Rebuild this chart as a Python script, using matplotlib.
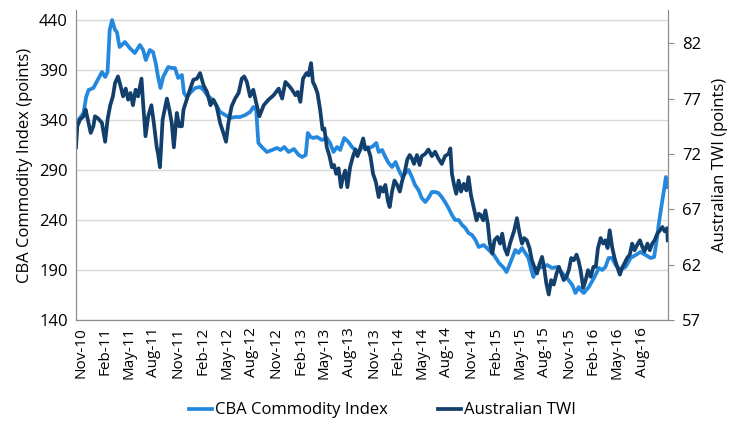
import numpy as np
import pandas as pd
import matplotlib
matplotlib.use("Agg")
import matplotlib.pyplot as plt
import matplotlib.dates as mdates

# CBA Commodity Index (left axis)
cba_dates = [
    "2010-10-15", "2010-10-24", "2010-11-12", "2010-11-22", "2010-12-01", "2010-12-19", "2010-12-31",
    "2011-01-20", "2011-02-01", "2011-02-10", "2011-02-18", "2011-02-27", "2011-03-10", "2011-03-17",
    "2011-03-27", "2011-04-16", "2011-05-04", "2011-05-23", "2011-06-11", "2011-06-23", "2011-07-03",
    "2011-07-18", "2011-07-30", "2011-08-09", "2011-08-18", "2011-08-27", "2011-09-06", "2011-09-25",
    "2011-10-08", "2011-10-20", "2011-11-01", "2011-11-15", "2011-11-23", "2011-12-03", "2011-12-15",
    "2012-01-04", "2012-01-22", "2012-02-04", "2012-02-17", "2012-03-01", "2012-03-18", "2012-04-06",
    "2012-04-25", "2012-05-13", "2012-06-01", "2012-06-20", "2012-07-09", "2012-07-27", "2012-08-08",
    "2012-08-19", "2012-08-27", "2012-09-09", "2012-09-28", "2012-10-17", "2012-11-05", "2012-11-18",
    "2012-12-02", "2012-12-18", "2013-01-07", "2013-01-25", "2013-02-07", "2013-02-20", "2013-02-28",
    "2013-03-10", "2013-03-21", "2013-04-03", "2013-04-22", "2013-05-10", "2013-05-22", "2013-06-04",
    "2013-06-17", "2013-06-29", "2013-07-14", "2013-07-30", "2013-08-12", "2013-08-25", "2013-09-06",
    "2013-09-19", "2013-10-07", "2013-10-26", "2013-11-11", "2013-11-20", "2013-12-03", "2013-12-15",
    "2013-12-27", "2014-01-09", "2014-01-22", "2014-02-03", "2014-02-16", "2014-02-28", "2014-03-12",
    "2014-03-24", "2014-04-05", "2014-04-18", "2014-04-30", "2014-05-13", "2014-05-25", "2014-06-07",
    "2014-06-19", "2014-07-01", "2014-07-14", "2014-07-26", "2014-08-08", "2014-08-21", "2014-09-02",
    "2014-09-15", "2014-09-28", "2014-10-10", "2014-10-22", "2014-11-04", "2014-11-17", "2014-11-29",
    "2014-12-18", "2015-01-06", "2015-01-25", "2015-02-13", "2015-03-03", "2015-03-13", "2015-03-21",
    "2015-04-03", "2015-04-15", "2015-04-27", "2015-05-10", "2015-05-22", "2015-06-03", "2015-06-16",
    "2015-06-22", "2015-06-29", "2015-07-11", "2015-07-24", "2015-08-12", "2015-08-30", "2015-09-18",
    "2015-10-07", "2015-10-25", "2015-11-14", "2015-11-26", "2015-12-08", "2015-12-15", "2015-12-27",
    "2016-01-15", "2016-02-03", "2016-02-22", "2016-03-05", "2016-03-17", "2016-03-29", "2016-04-11",
    "2016-04-24", "2016-05-12", "2016-05-31", "2016-06-19", "2016-07-08", "2016-07-26", "2016-08-14",
    "2016-09-02", "2016-09-15", "2016-09-25", "2016-10-03", "2016-10-12", "2016-10-22", "2016-10-29",
    "2016-11-05",
]
cba_values = [
    337, 340, 347, 363, 370, 372, 378,
    388, 383, 388, 430, 440, 430, 428,
    413, 418, 412, 407, 415, 410, 400,
    410, 408, 397, 383, 372, 383, 393,
    392, 392, 382, 385, 367, 363, 367,
    372, 373, 370, 365, 362, 357, 348,
    345, 342, 343, 343, 345, 348, 353,
    350, 317, 313, 308, 310, 312, 310,
    313, 308, 311, 305, 303, 305, 327,
    323, 322, 323, 320, 322, 317, 308,
    313, 310, 322, 318, 313, 310, 307,
    313, 312, 313, 317, 308, 310, 303,
    297, 293, 298, 290, 283, 287, 290,
    283, 275, 270, 262, 258, 262, 268,
    268, 267, 263, 258, 252, 245, 240,
    240, 235, 232, 227, 225, 220, 213,
    215, 210, 205, 197, 192, 188, 193,
    202, 210, 207, 212, 207, 202, 188,
    183, 192, 192, 193, 195, 192, 193,
    187, 182, 175, 167, 173, 170, 167,
    173, 182, 192, 190, 193, 202, 202,
    195, 190, 193, 202, 205, 208, 205,
    202, 203, 220, 237, 253, 270, 283,
    273,
]

# Australian TWI (right axis)
twi_dates = [
    "2010-10-15", "2010-10-20", "2010-10-30", "2010-11-12", "2010-11-20", "2010-12-01", "2010-12-09",
    "2010-12-19", "2010-12-25", "2011-01-06", "2011-01-20", "2011-02-01", "2011-02-10", "2011-02-20",
    "2011-03-02", "2011-03-10", "2011-03-21", "2011-03-30", "2011-04-09", "2011-04-19", "2011-04-28",
    "2011-05-07", "2011-05-16", "2011-05-26", "2011-06-04", "2011-06-17", "2011-06-23", "2011-07-02",
    "2011-07-12", "2011-07-24", "2011-08-02", "2011-08-13", "2011-08-18", "2011-08-25", "2011-09-04",
    "2011-09-20", "2011-09-29", "2011-10-08", "2011-10-16", "2011-10-27", "2011-11-05", "2011-11-15",
    "2011-11-21", "2011-12-03", "2011-12-15", "2011-12-28", "2012-01-10", "2012-01-22", "2012-02-04",
    "2012-02-17", "2012-03-01", "2012-03-12", "2012-03-24", "2012-04-06", "2012-04-18", "2012-04-28",
    "2012-05-07", "2012-05-19", "2012-06-01", "2012-06-14", "2012-06-26", "2012-07-05", "2012-07-15",
    "2012-07-27", "2012-08-08", "2012-08-19", "2012-08-31", "2012-09-16", "2012-10-04", "2012-10-23",
    "2012-11-11", "2012-11-24", "2012-12-06", "2012-12-18", "2012-12-31", "2013-01-13", "2013-01-21",
    "2013-01-31", "2013-02-10", "2013-02-23", "2013-03-03", "2013-03-12", "2013-03-19", "2013-03-27",
    "2013-04-05", "2013-04-15", "2013-04-24", "2013-05-01", "2013-05-10", "2013-05-20", "2013-05-29",
    "2013-06-06", "2013-06-14", "2013-06-23", "2013-07-02", "2013-07-09", "2013-07-18", "2013-07-26",
    "2013-08-05", "2013-08-16", "2013-08-25", "2013-09-02", "2013-09-13", "2013-09-23", "2013-10-01",
    "2013-10-10", "2013-10-20", "2013-10-30", "2013-11-09", "2013-11-20", "2013-11-27", "2013-12-07",
    "2013-12-15", "2013-12-24", "2013-12-31", "2014-01-09", "2014-01-18", "2014-01-28", "2014-02-07",
    "2014-02-16", "2014-02-24", "2014-03-07", "2014-03-16", "2014-03-24", "2014-04-01", "2014-04-12",
    "2014-04-22", "2014-04-30", "2014-05-13", "2014-05-25", "2014-06-07", "2014-06-19", "2014-07-01",
    "2014-07-14", "2014-07-26", "2014-08-08", "2014-08-15", "2014-08-21", "2014-08-29", "2014-09-06",
    "2014-09-15", "2014-09-24", "2014-10-04", "2014-10-14", "2014-10-22", "2014-10-31", "2014-11-10",
    "2014-11-21", "2014-11-29", "2014-12-06", "2014-12-16", "2014-12-24", "2015-01-02", "2015-01-10",
    "2015-01-19", "2015-01-27", "2015-02-07", "2015-02-17", "2015-02-25", "2015-03-06", "2015-03-16",
    "2015-03-26", "2015-04-03", "2015-04-11", "2015-04-21", "2015-05-01", "2015-05-10", "2015-05-18",
    "2015-05-28", "2015-06-07", "2015-06-16", "2015-06-25", "2015-07-05", "2015-07-15", "2015-07-24",
    "2015-08-01", "2015-08-09", "2015-08-18", "2015-08-27", "2015-09-06", "2015-09-16", "2015-09-25",
    "2015-10-04", "2015-10-13", "2015-10-23", "2015-11-01", "2015-11-10", "2015-11-20", "2015-11-30",
    "2015-12-08", "2015-12-15", "2015-12-25", "2016-01-03", "2016-01-12", "2016-01-22", "2016-02-01",
    "2016-02-10", "2016-02-18", "2016-02-28", "2016-03-09", "2016-03-17", "2016-03-25", "2016-04-02",
    "2016-04-11", "2016-04-20", "2016-04-30", "2016-05-10", "2016-05-18", "2016-05-27", "2016-06-06",
    "2016-06-16", "2016-06-25", "2016-07-04", "2016-07-14", "2016-07-24", "2016-08-02", "2016-08-10",
    "2016-08-21", "2016-08-30", "2016-09-08", "2016-09-17", "2016-09-27", "2016-10-07", "2016-10-16",
    "2016-10-25", "2016-11-03", "2016-11-05",
]
twi_values = [
    72.6, 74.5, 75.1, 75.4, 76.0, 74.8, 73.9,
    74.5, 75.4, 75.2, 74.8, 73.1, 75.1, 76.4,
    77.2, 78.4, 79.0, 78.2, 77.2, 77.9, 76.9,
    77.5, 76.4, 77.8, 77.2, 78.8, 76.6, 73.6,
    75.4, 76.4, 74.8, 72.6, 72.0, 70.8, 75.1,
    77.0, 76.0, 74.8, 72.6, 75.7, 74.5, 74.5,
    76.0, 76.9, 77.8, 78.7, 78.8, 79.3, 78.2,
    77.6, 76.4, 76.9, 76.3, 74.8, 73.9, 73.1,
    74.8, 76.3, 77.0, 77.5, 78.8, 79.0, 78.5,
    77.2, 77.8, 76.6, 75.4, 76.4, 76.9, 77.3,
    77.9, 77.0, 78.5, 78.2, 77.8, 77.3, 77.6,
    76.7, 78.8, 79.3, 79.1, 80.2, 78.5, 78.1,
    77.5, 76.0, 74.2, 74.3, 72.6, 71.8, 70.8,
    71.0, 70.2, 70.7, 69.0, 69.9, 70.5, 69.0,
    70.8, 71.8, 72.4, 71.8, 72.6, 73.4, 72.4,
    72.6, 71.8, 70.2, 69.5, 68.1, 69.0, 68.6,
    69.2, 67.8, 67.2, 68.6, 69.6, 69.2, 68.6,
    69.6, 70.2, 71.5, 71.9, 71.6, 71.1, 71.9,
    71.0, 71.8, 72.0, 72.4, 71.8, 72.2, 71.6,
    71.1, 71.8, 72.0, 72.5, 70.2, 69.2, 68.4,
    69.6, 68.6, 69.3, 68.7, 69.9, 68.3, 67.2,
    66.0, 66.6, 66.5, 66.0, 66.9, 65.7, 63.9,
    63.0, 64.2, 64.5, 63.9, 64.8, 63.5, 62.9,
    63.9, 64.5, 65.1, 66.2, 64.8, 63.9, 64.4,
    64.2, 63.5, 62.4, 61.8, 61.2, 62.1, 62.7,
    61.7, 60.3, 59.3, 60.6, 60.2, 61.2, 61.8,
    61.2, 60.6, 60.9, 61.5, 62.6, 62.4, 62.9,
    62.3, 61.5, 59.9, 60.6, 61.5, 60.9, 61.8,
    61.8, 63.5, 64.4, 63.9, 64.2, 63.5, 65.1,
    63.6, 62.6, 61.8, 61.1, 61.7, 62.1, 62.6,
    62.9, 63.9, 63.3, 63.8, 64.2, 63.6, 63.2,
    63.9, 63.3, 63.9, 64.2, 64.8, 65.1, 65.4,
    65.0, 65.3, 64.2,
]

tick_dates = pd.date_range("2010-11-01", "2016-08-01", freq="3MS")

light_blue = "#2488de"
navy = "#123f6c"
grid_col = "#d9d9d9"
spine_col = "#8c8c8c"
font = "Open Sans"

plt.rcParams["font.family"] = [font, "DejaVu Sans"]

fig = plt.figure(figsize=(7.35, 4.32), dpi=100)
ax = fig.add_axes([76 / 735, 112 / 432, 592 / 735, 310 / 432])
ax2 = ax.twinx()

cba_x = pd.to_datetime(cba_dates)
twi_x = pd.to_datetime(twi_dates)
l1, = ax.plot(cba_x, cba_values, color=light_blue, lw=2.7, label="CBA Commodity Index")
l2, = ax2.plot(twi_x, twi_values, color=navy, lw=2.7, label="Australian TWI")

ax.set_xlim(pd.Timestamp("2010-10-15"), pd.Timestamp("2016-11-06"))
ax.set_ylim(140, 450)
ax.set_yticks(np.arange(140, 441, 50))
ax2.set_ylim(57, 85)
ax2.set_yticks(np.arange(57, 83, 5))

ax.set_xticks(tick_dates)
ax.xaxis.set_major_formatter(mdates.DateFormatter("%b-%y"))
for lab in ax.get_xticklabels():
    lab.set_rotation(90)

ax.yaxis.grid(True, color=grid_col, lw=1)
ax.set_axisbelow(True)

for a in (ax, ax2):
    a.spines["top"].set_visible(False)
    for s in ("left", "bottom", "right"):
        a.spines[s].set_color(spine_col)
ax.tick_params(axis="y", length=0, labelsize=12, pad=6, colors="#000000")
ax.tick_params(axis="x", length=0, labelsize=11, pad=5)
ax2.tick_params(axis="y", length=4, color=spine_col, labelsize=12, pad=6)

ax.set_ylabel("CBA Commodity Index (points)", fontsize=12, labelpad=4)
ax2.set_ylabel("Australian TWI (points)", fontsize=12, labelpad=8)

fig.legend([l1, l2], ["CBA Commodity Index", "Australian TWI"], loc="center",
           bbox_to_anchor=(0.52, 0.05), ncol=2, frameon=False, fontsize=12,
           handlelength=1.4, handletextpad=0.15, columnspacing=3.0)

fig.savefig("out.png", dpi=100)
